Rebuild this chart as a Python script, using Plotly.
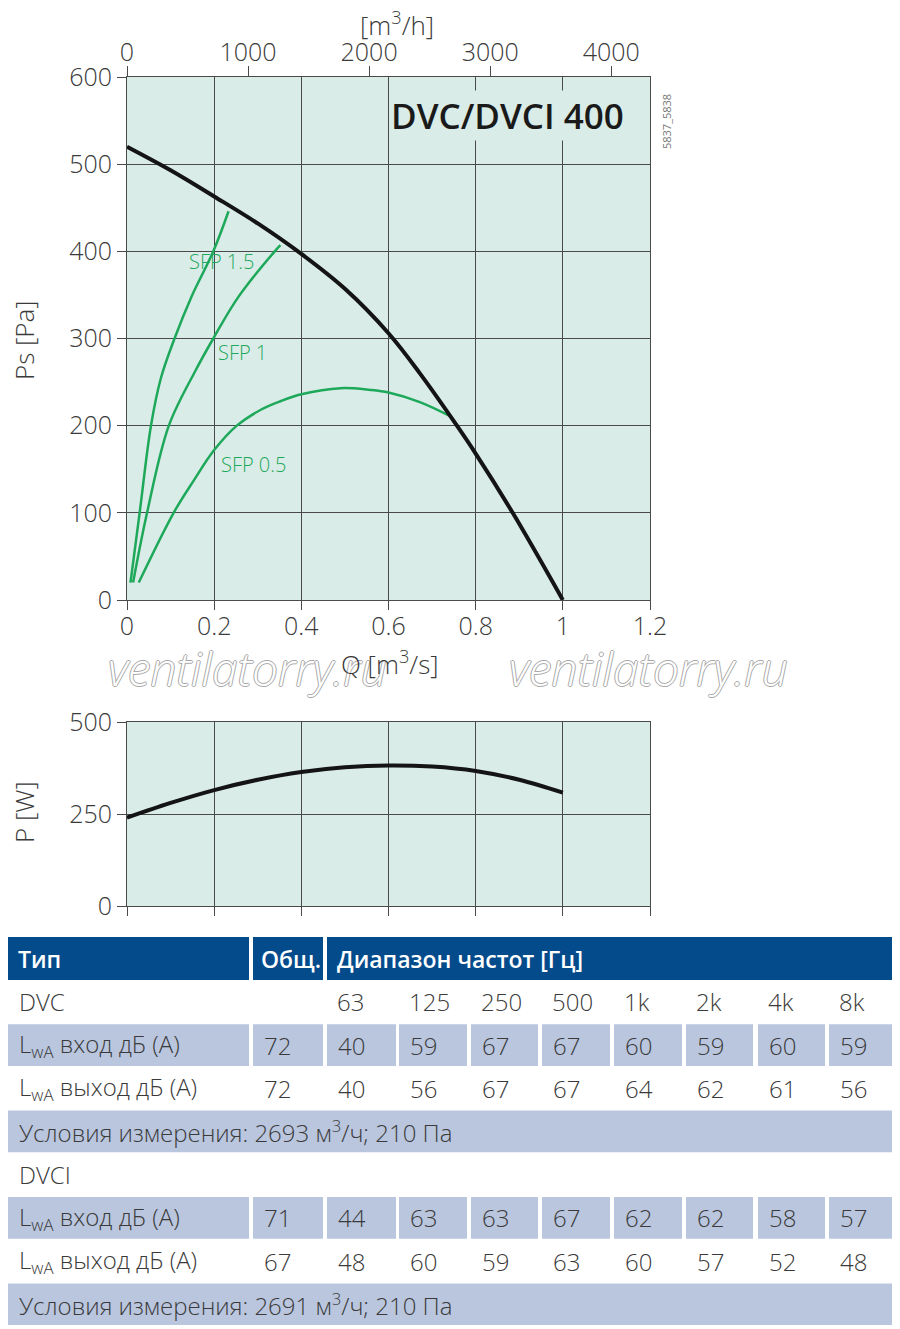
import plotly.graph_objects as go

# %% Data
# fan curve, static pressure vs air flow
q_fan = [0, 0.1, 0.2, 0.3, 0.4, 0.5, 0.6, 0.672, 0.757, 0.8, 0.885, 1.0]
ps_fan = [520, 493, 463, 432, 397, 357, 306, 260, 200, 168, 100, 0]

# SFP lines
q_sfp15 = [0.008, 0.029, 0.055, 0.078, 0.109, 0.148, 0.198, 0.233]
ps_sfp15 = [20, 100, 200, 255, 300, 348, 400, 446]
q_sfp1 = [0.014, 0.046, 0.096, 0.157, 0.198, 0.256, 0.339, 0.352]
ps_sfp1 = [20, 100, 200, 263, 300, 348, 400, 407]
q_sfp05 = [0.027, 0.107, 0.153, 0.2, 0.252, 0.306, 0.352, 0.4, 0.49, 0.558, 0.6, 0.672, 0.745]
ps_sfp05 = [20, 100, 137, 172, 200, 218, 228, 236, 243, 241, 238, 227, 210]

# power input
q_pow = [0, 0.1, 0.2, 0.3, 0.4, 0.5, 0.6, 0.7, 0.8, 0.9, 1.0]
p_pow = [240, 280, 315, 343, 364, 377, 382, 379, 367, 343, 308]

m3h_ticks = [0, 1000, 2000, 3000, 4000]

# sound table
header = ["Тип", "Общ.", "Диапазон частот [Гц]"]
bands = ["63", "125", "250", "500", "1k", "2k", "4k", "8k"]
dvc_in = [72, 40, 59, 67, 67, 60, 59, 60, 59]
dvc_out = [72, 40, 56, 67, 67, 64, 62, 61, 56]
dvci_in = [71, 44, 63, 63, 67, 62, 62, 58, 57]
dvci_out = [67, 48, 60, 59, 63, 60, 57, 52, 48]
lbl_in = "L<sub>wA</sub> вход дБ (A)"
lbl_out = "L<sub>wA</sub> выход дБ (A)"
cond_dvc = "Условия измерения: 2693 м<sup>3</sup>/ч; 210 Па"
cond_dvci = "Условия измерения: 2691 м<sup>3</sup>/ч; 210 Па"

# %% Helpers (pixel -> paper); the page body adds an 8px margin
OFF = 8
W, H = 900 - OFF, 1329 - OFF
FONT = "Open Sans, Noto Sans, DejaVu Sans, sans-serif"
TXT = "#3a3a3a"
GRID = "#4a4a4a"
BG = "#d9ece8"
GREEN = "#1ea85a"
HEAD = "#044b8c"
CELL = "#b9c6de"


def px(x):
    return (x - OFF) / W


def py(y):
    return 1 - (y - OFF) / H


# %% Figure
fig = go.Figure()

fig.add_trace(go.Scatter(x=q_sfp15, y=ps_sfp15, mode="lines",
                         line=dict(color=GREEN, width=2.5, shape="spline")))
fig.add_trace(go.Scatter(x=q_sfp1, y=ps_sfp1, mode="lines",
                         line=dict(color=GREEN, width=2.5, shape="spline")))
fig.add_trace(go.Scatter(x=q_sfp05, y=ps_sfp05, mode="lines",
                         line=dict(color=GREEN, width=2.5, shape="spline")))
fig.add_trace(go.Scatter(x=q_fan, y=ps_fan, mode="lines",
                         line=dict(color="#141414", width=4, shape="spline")))
# same curve on the m3/h axis, invisible, just to carry the top axis
fig.add_trace(go.Scatter(x=[v * 3600 for v in q_fan], y=ps_fan, mode="lines",
                         line=dict(width=0), xaxis="x2", yaxis="y",
                         hoverinfo="skip"))
fig.add_trace(go.Scatter(x=q_pow, y=p_pow, mode="lines", xaxis="x3", yaxis="y3",
                         line=dict(color="#141414", width=4, shape="spline")))

tick_font = dict(size=25, color=TXT, family=FONT, weight=300)
axis_common = dict(showline=True, linecolor=GRID, linewidth=1, mirror=True,
                   showgrid=True, gridcolor=GRID, gridwidth=1, zeroline=False,
                   ticks="outside", ticklen=9, tickcolor=GRID,
                   automargin=False, tickfont=tick_font)

x_dom = [px(127), px(650)]
fig.update_layout(
    width=W, height=H,
    margin=dict(l=0, r=0, t=0, b=0, pad=0, autoexpand=False),
    paper_bgcolor="white",
    plot_bgcolor=BG,
    showlegend=False,
    font=dict(family=FONT, color=TXT),
    xaxis=dict(domain=x_dom, range=[0, 1.2], dtick=0.2, anchor="y",
               tickformat="~g", ticklabelstandoff=-5, **axis_common),
    yaxis=dict(domain=[py(600), py(77)], range=[0, 600], dtick=100, anchor="x",
               **axis_common),
    xaxis2=dict(overlaying="x", side="top", anchor="y", range=[0, 1.2 * 3600],
                tickvals=m3h_ticks, showgrid=False, zeroline=False,
                showline=False, ticks="outside", ticklen=10, tickcolor=GRID,
                ticklabelstandoff=-5, automargin=False, tickfont=tick_font),
    xaxis3=dict(domain=x_dom, range=[0, 1.2], dtick=0.2, anchor="y3",
                showticklabels=False, **axis_common),
    yaxis3=dict(domain=[py(906), py(722)], range=[0, 500], tickvals=[0, 250, 500],
                anchor="x3", **axis_common),
)

ann = []


def label(x, y, s, size=26, angle=0, color=TXT, weight=300, **kw):
    ann.append(dict(xref="paper", yref="paper", x=px(x), y=py(y), text=s,
                    showarrow=False, xanchor="center", yanchor="middle",
                    textangle=angle,
                    font=dict(size=size, color=color, family=FONT, weight=weight,
                              **kw)))


# chart texts
ann.append(dict(xref="x", yref="y", x=1.145, y=556, text="DVC/DVCI 400",
                showarrow=False, xanchor="right", yanchor="middle",
                bgcolor=BG, font=dict(size=35, color="#1a1a1a", family=FONT, weight=600)))
label(666, 122, "5837_5838", size=11, angle=-90, color="#777", weight=400)
for t, xq, yp in [("SFP 1.5", 0.217, 388), ("SFP 1", 0.265, 284), ("SFP 0.5", 0.29, 156)]:
    ann.append(dict(xref="x", yref="y", x=xq, y=yp, text=t, showarrow=False,
                    xanchor="center", yanchor="middle",
                    font=dict(size=20, color=GREEN, weight=300)))

# watermark
for xc in [247, 648]:
    label(xc, 668, "ventilatorry.ru", size=46, color="white", style="italic",
          shadow="1px 0 0 #a8a8a8, -1px 0 0 #a8a8a8, 0 1px 0 #a8a8a8, 0 -1px 0 #a8a8a8")

# axis titles
label(397, 24, "[m<sup>3</sup>/h]")
label(390, 663, "Q [m<sup>3</sup>/s]")
label(24, 340, "Ps [Pa]", angle=-90)
label(24, 812, "P [W]", angle=-90)

# %% Table
shapes = []
cols = [(6, 249), (253, 323), (327, 396), (399, 467), (471, 538),
        (542, 610), (614, 682), (686, 753), (758, 825), (829, 900)]
TFS = 24


def rect(x0, x1, y0, y1, color):
    shapes.append(dict(type="rect", xref="paper", yref="paper", layer="below",
                       x0=px(x0), x1=px(x1), y0=py(y1), y1=py(y0),
                       fillcolor=color, line=dict(width=0)))


def text(x, y, s, color=TXT, weight=300, size=TFS):
    ann.append(dict(xref="paper", yref="paper", x=px(x), y=py(y), text=s,
                    showarrow=False, xanchor="left", yanchor="middle",
                    font=dict(size=size, color=color, family=FONT, weight=weight)))


# header row
hy0, hy1 = 937, 980
rect(cols[0][0], cols[0][1], hy0, hy1, HEAD)
rect(cols[1][0], cols[1][1], hy0, hy1, HEAD)
rect(cols[2][0], cols[-1][1], hy0, hy1, HEAD)
for s, c in zip(header, [cols[0][0] + 10, cols[1][0] + 6, cols[2][0] + 8]):
    text(c, (hy0 + hy1) / 2, s, color="white", weight=600, size=23)

rows = [("DVC", None, None), (lbl_in, dvc_in, CELL), (lbl_out, dvc_out, None),
        (cond_dvc, "cond", CELL),
        ("DVCI", None, None), (lbl_in, dvci_in, CELL), (lbl_out, dvci_out, None),
        (cond_dvci, "cond", CELL)]
step = 43.2
for i, (lab, vals, color) in enumerate(rows):
    y0 = 981 + i * step
    y1 = y0 + step - 1.5
    yc = (y0 + y1) / 2
    if vals == "cond":
        rect(cols[0][0], cols[-1][1], y0, y1, color)
        text(cols[0][0] + 11, yc, lab)
        continue
    if color:
        for c0, c1 in cols:
            rect(c0, c1, y0, y1, color)
    text(cols[0][0] + 11, yc, lab)
    if vals is None:
        if lab == "DVC":
            for (c0, c1), b in zip(cols[2:], bands):
                text(c0 + 8, yc, b)
    else:
        for (c0, c1), v in zip(cols[1:], vals):
            text(c0 + 9, yc, str(v))

fig.update_layout(annotations=ann, shapes=shapes)

fig.write_html("out.html")
